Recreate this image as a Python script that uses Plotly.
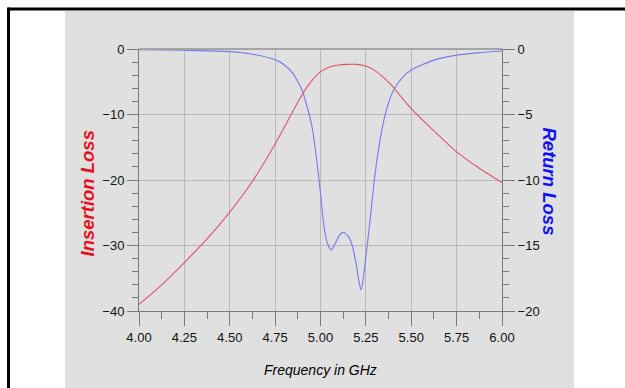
import plotly.graph_objects as go

# ---- data ----
il_freq = [4.00, 4.125, 4.25, 4.375, 4.50, 4.625, 4.75, 4.85, 4.90, 4.95, 5.00, 5.05,
           5.10, 5.15, 5.20, 5.25, 5.30, 5.35, 5.40, 5.45, 5.50, 5.625, 5.75, 5.875, 6.00]
il_db = [-39.0, -36.0, -32.6, -29.0, -24.9, -20.2, -14.5, -9.4, -6.9, -4.9, -3.5, -2.75,
         -2.45, -2.35, -2.35, -2.6, -3.3, -4.4, -5.8, -7.5, -9.1, -12.5, -15.7, -18.2, -20.4]

rl_freq = [4.00, 4.25, 4.50, 4.625, 4.75, 4.80, 4.85, 4.90, 4.93, 4.95, 4.975, 5.00,
           5.015, 5.035, 5.058, 5.08, 5.10, 5.125, 5.15, 5.175, 5.195, 5.21, 5.223,
           5.235, 5.25, 5.265, 5.285, 5.30, 5.33, 5.36, 5.40, 5.45, 5.50, 5.625, 5.75,
           5.875, 6.00]
rl_db = [-0.05, -0.1, -0.2, -0.4, -0.82, -1.2, -1.9, -3.2, -4.6, -5.7, -8.0, -11.0,
         -13.1, -14.7, -15.35, -14.9, -14.3, -14.0, -14.25, -15.0, -16.3, -17.6, -18.4,
         -17.6, -15.8, -14.1, -11.5, -9.6, -6.8, -4.8, -3.2, -2.2, -1.6, -0.85, -0.47,
         -0.28, -0.15]

x_ticks = [4.00, 4.25, 4.50, 4.75, 5.00, 5.25, 5.50, 5.75, 6.00]
x_minor = [4.125, 4.375, 4.625, 4.875, 5.125, 5.375, 5.625, 5.875]
il_ticks = [-40, -30, -20, -10, 0]
rl_ticks = [-20, -15, -10, -5, 0]

# ---- figure ----
W, H = 625, 388
L, R, T, B = 139, 502, 49, 311
pw, ph = R - L, B - T

def px(x):
    return (x - L) / pw

def py(y):
    return (B - y) / ph

tick_font = dict(family="Liberation Sans, Arial, sans-serif", size=13, color="#111111")
axis_grey = "#7a7a7a"
grid_grey = "#b8b8b8"

fig = go.Figure()
fig.add_trace(go.Scatter(x=il_freq, y=il_db, mode="lines",
                         line=dict(color="#e0506e", width=1.1, shape="spline", smoothing=0.6),
                         yaxis="y", showlegend=False, hoverinfo="skip"))
fig.add_trace(go.Scatter(x=rl_freq, y=rl_db, mode="lines",
                         line=dict(color="#7878f0", width=1.1, shape="spline", smoothing=0.6),
                         yaxis="y2", showlegend=False, hoverinfo="skip"))

fig.update_layout(
    width=W, height=H,
    margin=dict(l=L, r=W - R, t=T, b=H - B),
    paper_bgcolor="white",
    plot_bgcolor="rgba(0,0,0,0)",
    xaxis=dict(range=[4, 6], tickvals=x_ticks, ticktext=[f"{v:.2f}" for v in x_ticks],
               ticks="outside", ticklen=14, tickcolor=axis_grey, tickwidth=1,
               showline=True, linecolor=axis_grey, linewidth=1,
               showgrid=True, gridcolor=grid_grey, gridwidth=1, zeroline=False,
               tickfont=tick_font,
               minor=dict(tickvals=x_minor, ticks="outside", ticklen=7,
                          tickcolor=axis_grey, showgrid=False)),
    yaxis=dict(range=[-40, 0], tickvals=il_ticks, ticks="outside", ticklen=11,
               tickcolor=axis_grey, showline=True, linecolor=axis_grey, linewidth=1,
               showgrid=True, gridcolor=grid_grey, zeroline=False, tickfont=tick_font,
               minor=dict(dtick=2, ticks="outside", ticklen=6, tickcolor=axis_grey,
                          showgrid=False)),
    yaxis2=dict(range=[-20, 0], tickvals=rl_ticks, overlaying="y", side="right",
                ticks="outside", ticklen=12, tickcolor=axis_grey, showline=True,
                linecolor=axis_grey, linewidth=1, showgrid=False, zeroline=False,
                tickfont=tick_font,
                minor=dict(dtick=1, ticks="outside", ticklen=6, tickcolor=axis_grey,
                           showgrid=False)),
    shapes=[
        dict(type="rect", xref="paper", yref="paper", layer="below",
             x0=px(65), x1=px(574), y0=py(400), y1=py(11),
             fillcolor="#e0e0e0", line=dict(width=0)),
        dict(type="line", xref="paper", yref="paper", layer="above",
             x0=0, x1=1, y0=1, y1=1, line=dict(color="#a4a4a4", width=2)),
        dict(type="line", xref="paper", yref="paper",
             x0=px(8.5), x1=px(640), y0=py(9), y1=py(9),
             line=dict(color="black", width=3)),
        dict(type="line", xref="paper", yref="paper",
             x0=px(8.5), x1=px(8.5), y0=py(400), y1=py(7.5),
             line=dict(color="black", width=3)),
    ],
    annotations=[
        dict(text="<i>Frequency in GHz</i>", xref="paper", yref="paper",
             x=px(320.5), y=py(370), showarrow=False, xanchor="center", yanchor="middle",
             font=dict(family="Liberation Sans, Arial, sans-serif", size=14, color="#000000")),
        dict(text="<b><i>Insertion Loss</i></b>", xref="paper", yref="paper",
             x=px(86.5), y=py(194), showarrow=False, textangle=-90,
             xanchor="center", yanchor="middle",
             font=dict(family="Liberation Sans, Arial, sans-serif", size=18.5, color="#e8101c")),
        dict(text="<b><i>Return Loss</i></b>", xref="paper", yref="paper",
             x=px(549.5), y=py(181), showarrow=False, textangle=90,
             xanchor="center", yanchor="middle",
             font=dict(family="Liberation Sans, Arial, sans-serif", size=18.5, color="#1010f0")),
    ],
)

fig.write_html("out.html", config={"displayModeBar": False},
               post_script="document.body.style.margin='0';document.body.style.overflow='hidden';")
